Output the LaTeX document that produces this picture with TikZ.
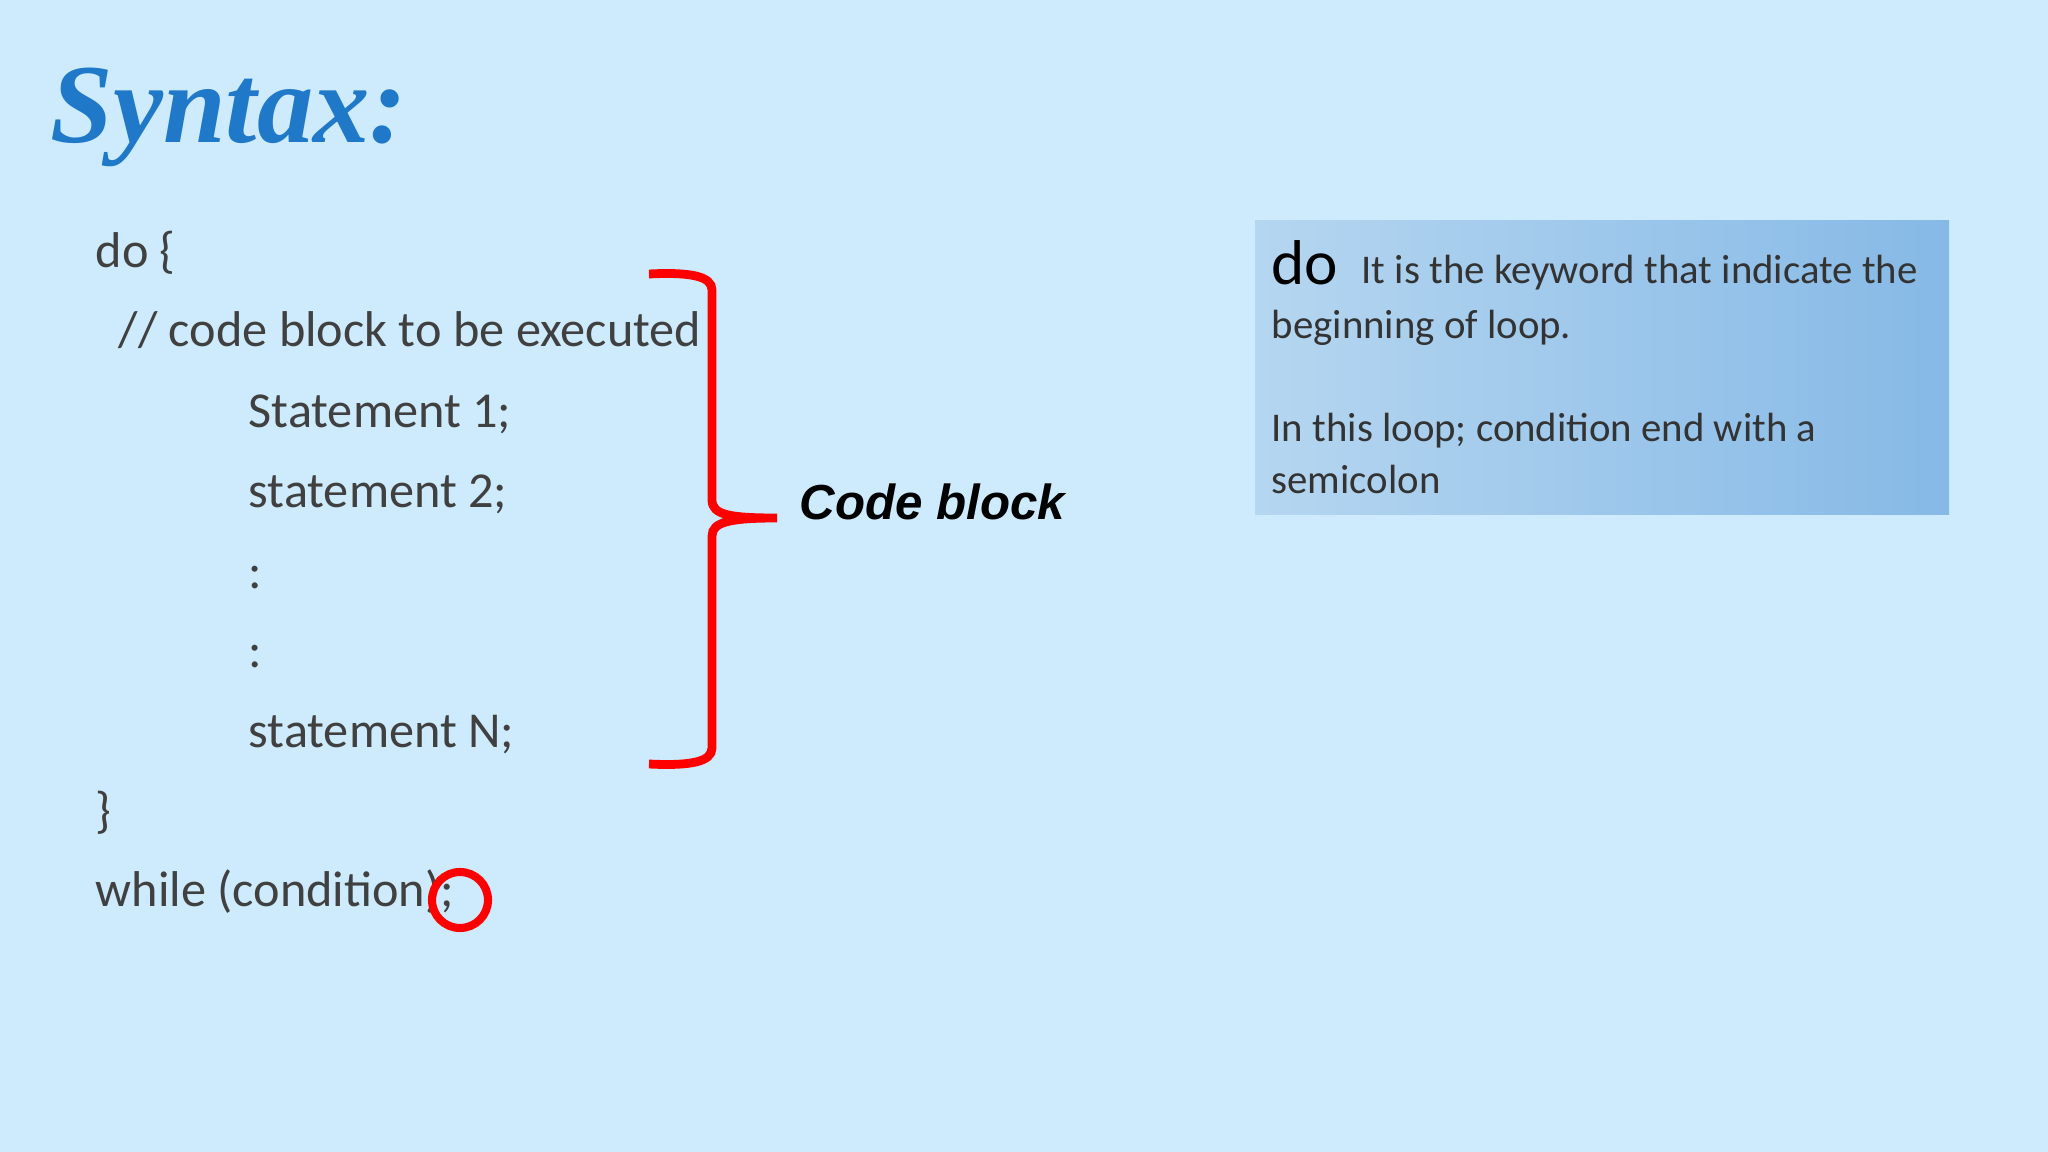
\documentclass[tikz,border=0pt]{standalone}
\usepackage{fontspec}
\setmainfont{Carlito}
\newfontfamily\titlefont{Liberation Serif}
\newfontfamily\cbfont{Liberation Sans}
\usetikzlibrary{shadings}
\definecolor{bg}{HTML}{CDEBFC}
\definecolor{ttl}{HTML}{1F78C8}
\definecolor{codec}{HTML}{404040}
\definecolor{boxa}{HTML}{B5D6F0}
\definecolor{boxb}{HTML}{86B9E6}
\begin{document}
\begin{tikzpicture}[x=0.01cm,y=-0.01cm,
  code/.style={anchor=base west,inner sep=0,text=codec,font=\fontsize{14.3}{16}\selectfont},
  note/.style={anchor=base west,inner sep=0,text=black!80,font=\fontsize{11.6}{13}\selectfont}]
\fill[bg] (0,0) rectangle (2048,1152);
\useasboundingbox (0,0) rectangle (2048,1152);
\node[anchor=base west,inner sep=0,text=ttl,font=\titlefont\bfseries\itshape\fontsize{32}{36}\selectfont] (title) at (50,143) {Syntax:};
\node[code] (l1) at (95,268) {do \{};
\node[code] (l2) at (118,347) {// code block to be executed};
\node[code] (l3) at (248,428) {Statement 1;};
\node[code] (l4) at (248,508) {statement 2;};
\node[code] (l5) at (248,588) {:};
\node[code] (l6) at (248,667) {:};
\node[code] (l7) at (248,747) {statement N;};
\node[code] (l8) at (95,827) {\}};
\node[code] (l9) at (95,906) {while (condition);};
\draw[red,line width=2.5pt] (649,274) .. controls (690,272) and (712,276) .. (712,290)
  -- (712,500) .. controls (712,515) and (730,518) .. (777,518)
  .. controls (730,518) and (712,522) .. (712,536)
  -- (712,748) .. controls (712,762) and (690,766) .. (649,764);
\draw[red,line width=2.3pt] (460,900) circle (28);
\node[anchor=base west,inner sep=0,font=\cbfont\bfseries\itshape\fontsize{14}{17}\selectfont] (cb) at (799,520) {Code block};
\shade[left color=boxa,right color=boxb] (1255,221) rectangle (1949,515);
\node[anchor=base west,inner sep=0,font=\fontsize{18}{20}\selectfont] (do) at (1271,285) {do};
\node[note] (n1) at (1361,284) {It is the keyword that indicate the};
\node[note] (n2) at (1271,339) {beginning of loop.};
\node[note] (n3) at (1271,442) {In this loop; condition end with a};
\node[note] (n4) at (1271,494) {semicolon};
\end{tikzpicture}
\end{document}
